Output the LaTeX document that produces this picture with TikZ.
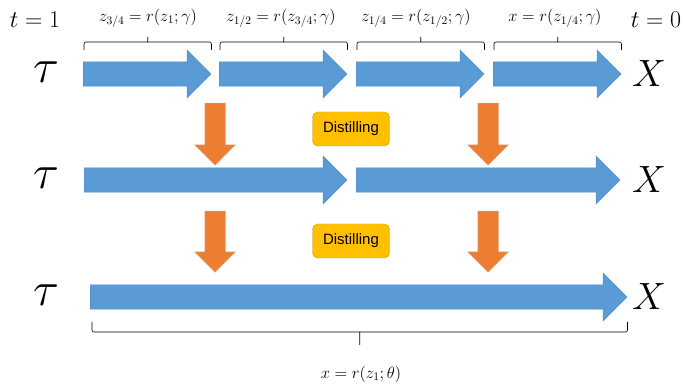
\RequirePackage{fix-cm}
\documentclass[tikz,border=0pt]{standalone}
\usepackage{fontspec}
\setsansfont{Liberation Sans}
\usetikzlibrary{positioning, shapes.arrows, calc}
\definecolor{flow}{HTML}{5B9BD5}
\definecolor{flowedge}{HTML}{4A89C5}
\definecolor{push}{HTML}{ED7D31}
\definecolor{pushedge}{HTML}{D9A58A}
\definecolor{tag}{HTML}{FFC000}
\definecolor{tagedge}{HTML}{C9A227}

\begin{document}
\begin{tikzpicture}[x=1pt, y=-1pt,
  flw/.style={single arrow, draw=flowedge, fill=flow, line width=0.4pt, inner sep=12pt,
    single arrow head extend=12pt, minimum width=1pt, anchor=tail},
  dwn/.style={single arrow, shape border rotate=270, draw=pushedge, fill=push, line width=0.5pt,
    inner sep=10pt, single arrow head extend=10pt, minimum width=1pt, minimum height=62pt, anchor=tail},
  dst/.style={draw=tagedge, fill=tag, rounded corners=5pt, minimum width=77pt, minimum height=34pt,
    font=\sffamily\fontsize{15}{18}\selectfont},
  bkt/.style 2 args={line width=0.6pt, rounded corners=2pt,
    to path={(\tikztostart) -- ($(\tikztostart)+(0,#1)$) -- ($(\tikztotarget)+(0,#1)$) -- (\tikztotarget)
      ($(\tikztostart)!0.5!(\tikztotarget)+(0,#1)$) -- ++(0,#2)}},
  lbl/.style={font=\fontsize{16.5}{19}\selectfont},
  big/.style={font=\fontsize{24}{28}\selectfont},
  sym/.style={font=\fontsize{48}{52}\selectfont},
  endx/.style={font=\fontsize{38}{42}\selectfont}
]
  \useasboundingbox (0,0) rectangle (686,390);

  % time labels
  \node[big] (t1) at (35,20) {$t=1$};
  \node[big] (t0) at (656,20) {$t=0$};

  % row 1: four steps
  \node[flw, minimum height=128pt] (a1) at (83,74) {};
  \node[flw, minimum height=128pt] (a2) at (219,74) {};
  \node[flw, minimum height=128pt] (a3) at (356,74) {};
  \node[flw, minimum height=128pt] (a4) at (493,74) {};
  \node[sym] (tau1) at (46,72) {$\tau$};
  \node[endx] (x1) at (649,74) {$X$};

  % row 2: two steps
  \node[flw, minimum height=263pt] (b1) at (84,180) {};
  \node[flw, minimum height=264pt] (b2) at (356,180) {};
  \node[sym] (tau2) at (46,178) {$\tau$};
  \node[endx] (x2) at (649,180) {$X$};

  % row 3: one step
  \node[flw, minimum height=537pt] (c1) at (90,297) {};
  \node[sym] (tau3) at (46,295) {$\tau$};
  \node[endx] (x3) at (649,297) {$X$};

  % distillation
  \node[dwn] (d1) at (215,103) {};
  \node[dwn] (d2) at (488,103) {};
  \node[dwn, minimum height=61pt] (d3) at (215,211) {};
  \node[dwn, minimum height=61pt] (d4) at (488,211) {};
  \node[dst] (ds1) at (351,129) {Distilling};
  \node[dst] (ds2) at (351,241) {Distilling};

  % braces
  \foreach \a in {a1, a2, a3, a4}
    \draw[bkt={-8}{-5}] ([xshift=1pt, yshift=24pt]\a.tail) to ([yshift=24pt]\a.tip);
  \node[lbl] (l1) at (148,18) {$z_{3/4}=r(z_1;\gamma)$};
  \node[lbl] (l2) at (281,18) {$z_{1/2}=r(z_{3/4};\gamma)$};
  \node[lbl] (l3) at (416,18) {$z_{1/4}=r(z_{1/2};\gamma)$};
  \node[lbl] (l4) at (555,18) {$x=r(z_{1/4};\gamma)$};

  \draw[bkt={10}{13}] ([xshift=2pt, yshift=-25pt]c1.tail) to ([yshift=-25pt]c1.tip);
  \node[lbl] (l5) at (361,374) {$x=r(z_1;\theta)$};
\end{tikzpicture}
\end{document}
